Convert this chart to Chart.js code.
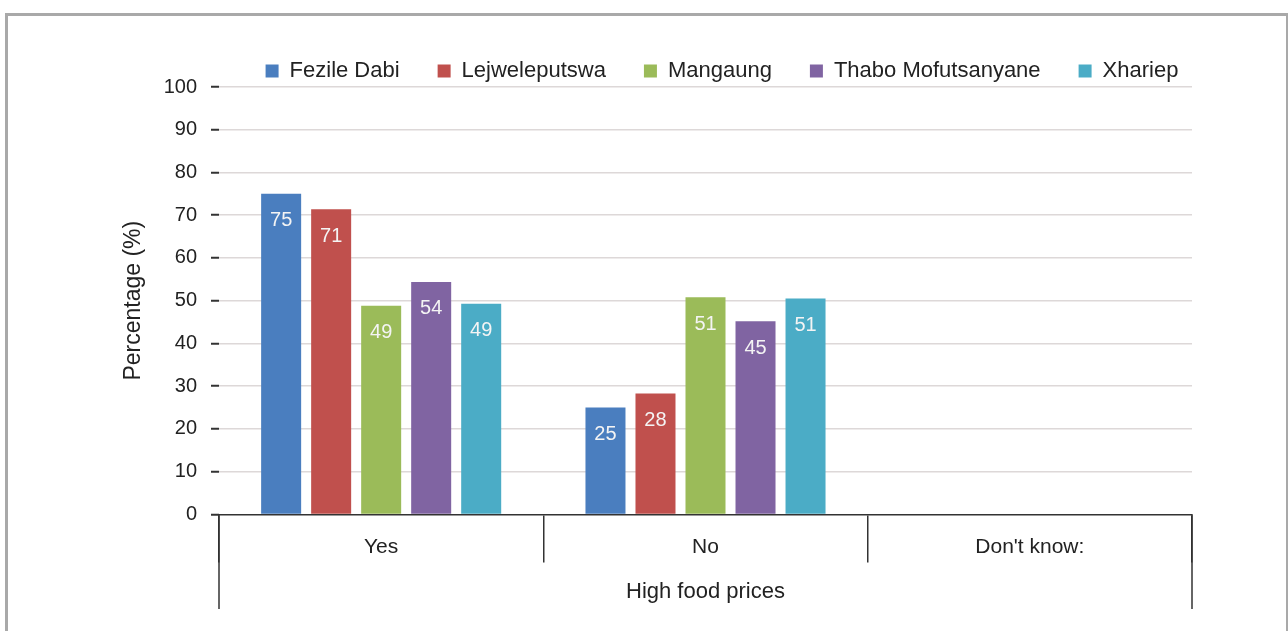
<!DOCTYPE html>
<html>
<head>
<meta charset="utf-8">
<script src="https://cdn.jsdelivr.net/npm/chart.js@4/dist/chart.umd.min.js"></script>
<style>
  html, body { margin:0; padding:0; background:#fff; }
  #frame { position:absolute; left:5px; top:13px; width:1278px; height:640px; border:3px solid #a9a9a9; border-bottom:none; }
  #chart { position:absolute; left:0; top:0; }
</style>
</head>
<body>
<div id="frame"></div>
<canvas id="chart" width="1288" height="631"></canvas>
<script>
const categories = ['Yes', 'No', "Don't know:"];
const groupLabel = 'High food prices';
const districts = ['Fezile Dabi', 'Lejweleputswa', 'Mangaung', 'Thabo Mofutsanyane', 'Xhariep'];
const fezileDabi = [75.0, 25.0, 0];
const lejweleputswa = [71.4, 28.3, 0];
const mangaung = [48.8, 50.8, 0];
const thaboMofutsanyane = [54.4, 45.2, 0];
const xhariep = [49.3, 50.5, 0];
const yTicks = [0, 10, 20, 30, 40, 50, 60, 70, 80, 90, 100];

const colors = ['#4a7ebf', '#c0504d', '#9bbb59', '#8064a2', '#4bacc6'];
const series = [fezileDabi, lejweleputswa, mangaung, thaboMofutsanyane, xhariep];
const FONT = "'Liberation Sans', Arial, sans-serif";

// value labels inside the top of each bar
const barLabels = {
  id: 'barLabels',
  afterDatasetsDraw(chart){
    const ctx = chart.ctx;
    ctx.save();
    ctx.font = '20px ' + FONT;
    ctx.fillStyle = '#f4f4f4';
    ctx.textAlign = 'center';
    ctx.textBaseline = 'middle';
    chart.data.datasets.forEach((ds, i) => {
      chart.getDatasetMeta(i).data.forEach((bar, j) => {
        const v = ds.data[j];
        if (!v) return;
        ctx.fillText(String(Math.round(v)), bar.x, bar.y + 27);
      });
    });
    ctx.restore();
  }
};

// outer bracket lines of the grouped category axis + legend nudge
const axisFrame = {
  id: 'axisFrame',
  afterLayout(chart){
    chart.legend.left += 71;
    chart.legend.right += 71;
    chart.legend.top += 5;
    chart.legend.bottom += 5;
  },
  afterDraw(chart){
    const x = chart.scales.x;
    const ctx = chart.ctx;
    ctx.save();
    ctx.strokeStyle = '#333';
    ctx.lineWidth = 1.5;
    [x.left, x.right].forEach(px => {
      ctx.beginPath();
      ctx.moveTo(px, x.top);
      ctx.lineTo(px, x.bottom);
      ctx.stroke();
    });
    ctx.restore();
  }
};

new Chart(document.getElementById('chart'), {
  type: 'bar',
  data: {
    labels: categories,
    datasets: districts.map((name, i) => ({
      label: name,
      data: series[i],
      backgroundColor: colors[i],
      borderWidth: 0,
      barPercentage: 0.8,
      categoryPercentage: 0.771
    }))
  },
  options: {
    responsive: false,
    animation: false,
    layout: { padding: { left: 110, right: 96, top: 17, bottom: 22 } },
    plugins: {
      legend: {
        position: 'top',
        labels: { boxWidth: 13, boxHeight: 13, padding: 38, color: '#222', font: { size: 22, family: FONT } }
      },
      tooltip: { enabled: false }
    },
    scales: {
      x: {
        grid: { drawOnChartArea: false, drawTicks: true, tickLength: 48, color: '#333', lineWidth: 1.5 },
        border: { display: true, color: '#333', width: 1.5 },
        ticks: { padding: -28, color: '#222', font: { size: 21, family: FONT } },
        title: { display: true, text: groupLabel, color: '#222', font: { size: 22, family: FONT }, padding: { top: 47, bottom: 4 } }
      },
      y: {
        min: 0, max: 100,
        afterFit(scale){ scale.width = 109; },
        afterBuildTicks(scale){ scale.ticks = yTicks.map(v => ({ value: v })); },
        grid: {
          color: c => c.tick && c.tick.value === 0 ? 'rgba(0,0,0,0)' : '#ddd8d8',
          lineWidth: 1.5,
          tickLength: 8,
          tickColor: '#333',
          tickWidth: 2
        },
        border: { display: false },
        ticks: { padding: 14, color: '#222', font: { size: 20, family: FONT } },
        title: { display: true, text: 'Percentage (%)', color: '#222', font: { size: 23, family: FONT }, padding: { top: 10, bottom: 0 } }
      }
    }
  },
  plugins: [barLabels, axisFrame]
});
</script>
</body>
</html>
